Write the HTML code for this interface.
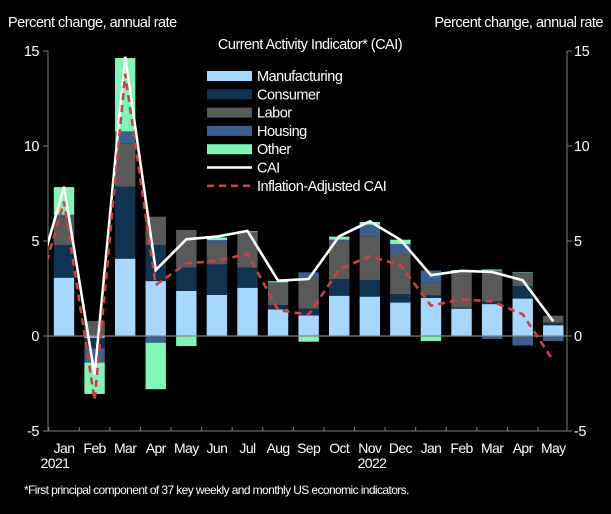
<!DOCTYPE html>
<html><head><meta charset="utf-8"><style>
html,body{margin:0;padding:0;background:#000;}
svg text{font-family:"Liberation Sans",Arial,sans-serif;fill:#fff;}
</style></head><body>
<svg id="chart" width="611" height="509" viewBox="0 0 611 509">
<rect width="611" height="509" fill="#000"/>
<defs><clipPath id="plotclip"><rect x="48" y="40" width="520" height="400"/></clipPath></defs>
<text x="8" y="27" font-size="14.5" letter-spacing="-0.5">Percent change, annual rate</text>
<text x="603" y="27" font-size="14.5" letter-spacing="-0.5" text-anchor="end">Percent change, annual rate</text>
<text x="310" y="49" font-size="14.5" letter-spacing="-0.5" text-anchor="middle">Current Activity Indicator* (CAI)</text>
<g id="bars"></g>
<g id="axes"></g>
<g id="lines" clip-path="url(#plotclip)"></g>
<g id="legend"></g>
<text x="55" y="468" font-size="14" letter-spacing="-0.6" text-anchor="middle">2021</text>
<text x="372" y="468" font-size="14" letter-spacing="-0.6" text-anchor="middle">2022</text>
<text x="24" y="494" font-size="12" letter-spacing="-0.6">*First principal component of 37 key weekly and monthly US economic indicators.</text>
</svg>
<script>
const months = ["Jan","Feb","Mar","Apr","May","Jun","Jul","Aug","Sep","Oct","Nov","Dec","Jan","Feb","Mar","Apr","May"];
const manufacturing = [3.07,-0.1,4.07,2.89,2.37,2.16,2.54,1.4,1.08,2.12,2.07,1.76,2.0,1.44,1.68,1.97,0.57];
const consumer = [1.72,-0.55,3.79,1.9,1.23,1.61,1.06,0.23,0.36,0.88,0.88,0.44,0.14,0.06,0.14,0.66,0.13];
const labor = [1.49,0.79,2.28,1.49,1.98,1.14,1.86,1.19,1.66,2.0,2.3,2.17,0.66,1.92,1.63,0.72,0.37];
const housing = [0.1,-0.75,0.63,-0.35,0,0.14,0,0,0.25,0.07,0.61,0.47,0.65,0,-0.15,-0.5,-0.27];
const other = [1.46,-1.65,3.86,-2.45,-0.53,0.14,0.05,0.06,-0.3,0.16,0.14,0.23,-0.27,0.05,0.05,0.02,0];
const cai = [2.2,7.86,-2.05,14.7,3.47,5.09,5.23,5.53,2.91,3.0,5.25,6.03,5.07,3.2,3.43,3.37,2.93,0.77];
const inflAdj = [1.5,7.07,-3.37,13.8,2.68,3.82,3.96,4.32,1.37,1.12,3.5,4.2,3.72,1.6,1.93,1.82,1.14,-1.3];
const yTicks = [-5,0,5,10,15];
const seriesNames = ["Manufacturing","Consumer","Labor","Housing","Other"];
const seriesColors = ["#a6d8ff","#0f3350","#595959","#3a6090","#7ff5b8"];

const NS="http://www.w3.org/2000/svg";
const x0=48,x1=567;
function y(v){return 336-19*v;}
function xc(i){return 64+30.58*i;}
function mk(tag,attrs,parent){const e=document.createElementNS(NS,tag);for(const k in attrs)e.setAttribute(k,attrs[k]);parent.appendChild(e);return e;}
const bars=document.getElementById('bars'),axes=document.getElementById('axes'),lines=document.getElementById('lines'),legend=document.getElementById('legend');
const series=[manufacturing,consumer,labor,housing,other];
months.forEach((m,i)=>{
  let pos=0,neg=0;
  series.forEach((s,k)=>{
    const v=s[i]; if(!v) return;
    let a,b;
    if(v>0){a=pos;b=pos+v;pos=b;}else{a=neg;b=neg+v;neg=b;}
    const r=mk('rect',{x:xc(i)-10.2,y:Math.min(y(a),y(b)),width:20.4,height:Math.abs(y(a)-y(b)),fill:seriesColors[k]},bars);
    
    
  });
  const t=mk('text',{x:xc(i),y:453,'font-size':14,'letter-spacing':'-0.6','text-anchor':'middle'},axes);
  t.textContent=m;
  
  
});
mk('line',{x1:x0,x2:x1,y1:y(0),y2:y(0),stroke:'#808080','stroke-width':1.2},axes);
mk('line',{x1:x0,x2:x0,y1:y(15),y2:y(-5),stroke:'#808080','stroke-width':1},axes);
mk('line',{x1:x1,x2:x1,y1:y(15),y2:y(-5),stroke:'#808080','stroke-width':1},axes);
mk('line',{x1:x0,x2:x1,y1:y(-5),y2:y(-5),stroke:'#808080','stroke-width':1},axes);
for(let i=0;i<=17;i++){const xx=xc(i)-15.3;if(xx>x0&&xx<x1)mk('line',{x1:xx,x2:xx,y1:y(-5),y2:y(-5)-4,stroke:'#808080'},axes);}
yTicks.forEach(v=>{
  mk('line',{x1:x0-5,x2:x0,y1:y(v),y2:y(v),stroke:'#808080'},axes);
  mk('line',{x1:x1,x2:x1+5,y1:y(v),y2:y(v),stroke:'#808080'},axes);
  const l=mk('text',{x:39,y:y(v)+5,'font-size':14.5,'text-anchor':'end','letter-spacing':'-0.5'},axes);l.textContent=v;
  
  
  const r=mk('text',{x:574,y:y(v)+5,'font-size':14.5,'letter-spacing':'-0.5'},axes);r.textContent=v;
  
  
});
function path(arr){return arr.map((v,j)=>(j?'L':'M')+xc(j-1).toFixed(1)+','+y(v).toFixed(1)).join(' ');}
const lc=mk('path',{d:path(cai),fill:'none',stroke:'#fff','stroke-width':2.6,'stroke-linejoin':'miter'},lines);


const li=mk('path',{d:path(inflAdj),fill:'none',stroke:'#d04040','stroke-width':2.6,'stroke-dasharray':'7,5'},lines);


const labels=seriesNames.concat(["CAI","Inflation-Adjusted CAI"]);
labels.forEach((n,k)=>{
  const yy=76+18.3*k;
  const g=mk('g',{},legend);
  
  
  if(k<5) mk('rect',{x:207,y:yy-5,width:45,height:10,fill:seriesColors[k]},g);
  else if(k==5) mk('line',{x1:207,x2:252,y1:yy,y2:yy,stroke:'#fff','stroke-width':2.6},g);
  else mk('line',{x1:207,x2:252,y1:yy,y2:yy,stroke:'#d04040','stroke-width':2.6,'stroke-dasharray':'7,5'},g);
  const t=mk('text',{x:257,y:yy+5,'font-size':14.5,'letter-spacing':'-0.5'},g);t.textContent=n;
});
</script>
</body></html>
